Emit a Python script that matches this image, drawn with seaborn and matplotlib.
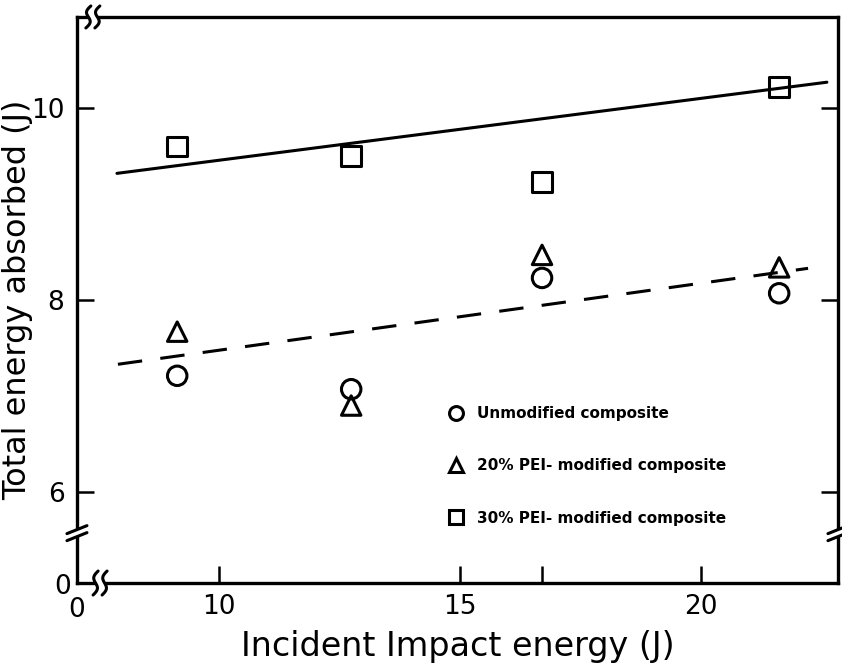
import numpy as np
import pandas as pd
import matplotlib
matplotlib.use("Agg")
import matplotlib.pyplot as plt
import seaborn as sns
from matplotlib.lines import Line2D
from matplotlib.transforms import IdentityTransform

# ---------------- data ----------------
impact_energy = [9.13, 12.74, 16.70, 21.62]
unmodified = [7.21, 7.07, 8.23, 8.07]
pei20 = [7.67, 6.90, 8.47, 8.34]
pei30 = [9.60, 9.50, 9.23, 10.22]
series_names = ["Unmodified composite",
                "20% PEI- modified composite",
                "30% PEI- modified composite"]
series_markers = ["o", "^", "s"]

# trend lines (end points)
solid_x = [7.88, 22.61]
solid_y = [9.32, 10.27]
dash_x = [7.90, 22.22]
dash_y = [7.33, 8.33]

x_ticks = [10, 15, 20]
x_extra_ticks = [16.7]
y_ticks = [6, 8, 10]
x_range = [7.05, 22.84]
y_range = [5.05, 10.95]
x_break_at = 7.53
x_top_break_at = 7.38
y_break_at = 5.57

# ---------------- style ----------------
sns.set_style("ticks")
plt.rcParams["font.family"] = ["DejaVu Sans"]
for k in ("text.color", "axes.labelcolor", "xtick.color", "ytick.color",
          "axes.edgecolor"):
    plt.rcParams[k] = "black"

df = pd.DataFrame({
    "x": impact_energy * 3,
    "y": unmodified + pei20 + pei30,
    "series": np.repeat(series_names, len(impact_energy)),
})

fig = plt.figure(figsize=(8.42, 6.68), dpi=100)
ax = fig.add_axes([0.0914, 0.1272, 0.9038, 0.8474])

for name, m in zip(series_names, series_markers):
    sub = df[df["series"] == name]
    sns.scatterplot(data=sub, x="x", y="y", marker=m, s=196,
                    facecolor="none", edgecolor="black", linewidth=2.2,
                    ax=ax, legend=False, zorder=3)

sns.lineplot(x=solid_x, y=solid_y, color="black", linewidth=2.2, ax=ax)
sns.lineplot(x=dash_x, y=dash_y, color="black", linewidth=2.2,
             linestyle=(0, (8, 6)), ax=ax)

ax.set_xlim(*x_range)
ax.set_ylim(*y_range)
ax.set_xticks(x_ticks)
ax.set_xticks(x_extra_ticks, minor=True)
ax.set_yticks(y_ticks)
ax.set_xticklabels([str(t) for t in x_ticks], fontsize=19)
ax.set_yticklabels([str(t) for t in y_ticks], fontsize=19)
ax.tick_params(axis="both", which="both", direction="in", length=12,
               width=1.8, colors="black")
ax.tick_params(axis="x", which="both", bottom=True, top=False, pad=8)
ax.tick_params(axis="y", which="both", left=True, right=True, pad=9)
for sp in ax.spines.values():
    sp.set_visible(True)
    sp.set_linewidth(2.4)
    sp.set_color("black")

ax.set_xlabel("Incident Impact energy (J)", fontsize=24, color="black")
ax.set_ylabel("Total energy absorbed (J)", fontsize=23, color="black")
ax.xaxis.set_label_coords(0.5, -0.083)
ax.yaxis.set_label_coords(-0.057, 0.5)

# the broken-axis "0" labels
ax.text(-0.008, -0.007, "0", transform=ax.transAxes, ha="right", va="center",
        fontsize=19, color="black")
ax.text(0.0, -0.025, "0", transform=ax.transAxes, ha="center", va="top",
        fontsize=19, color="black")

# legend
handles = [Line2D([], [], linestyle="none", marker=m, markersize=10,
                  markerfacecolor="none", markeredgecolor="black",
                  markeredgewidth=2.2) for m in series_markers]
leg = ax.legend(handles, series_names, loc="upper left",
                bbox_to_anchor=(0.486, 0.313), frameon=False, borderpad=0,
                borderaxespad=0, handlelength=1.2, handletextpad=0.75,
                labelspacing=2.45,
                prop=dict(size=11, weight="bold"))
for txt in leg.get_texts():
    txt.set_color("black")

# ---------------- axis-break marks ----------------
fig.canvas.draw()
T = IdentityTransform()


def px(x, y):
    return ax.transData.transform((x, y))


def add(xs, ys, **kw):
    fig.add_artist(Line2D(xs, ys, transform=T, **kw))


# vertical spines (left and right)
for xv in x_range:
    cx, cy = px(xv, y_break_at)
    add([cx, cx], [cy - 3.5, cy + 3.5], color="white", lw=6, solid_capstyle="butt")
    for d in (-3.5, 3.5):
        add([cx - 10, cx + 10], [cy + d - 4, cy + d + 4], color="black", lw=2.2)

# horizontal spines: S-shaped wiggles
t = np.linspace(-1, 1, 30)
for xv, yv, h in ((x_break_at, y_range[0], 12), (x_top_break_at, y_range[1], 11)):
    cx, cy = px(xv, yv)
    add([cx - 4, cx + 4], [cy, cy], color="white", lw=6, solid_capstyle="butt")
    for d in (-4.5, 4.5):
        xs = cx + d + 2.5 * t - 3.0 * np.sin(np.pi * t)
        ys = cy + h * t
        add(xs, ys, color="black", lw=2.2)

fig.savefig("out.png", dpi=100)
